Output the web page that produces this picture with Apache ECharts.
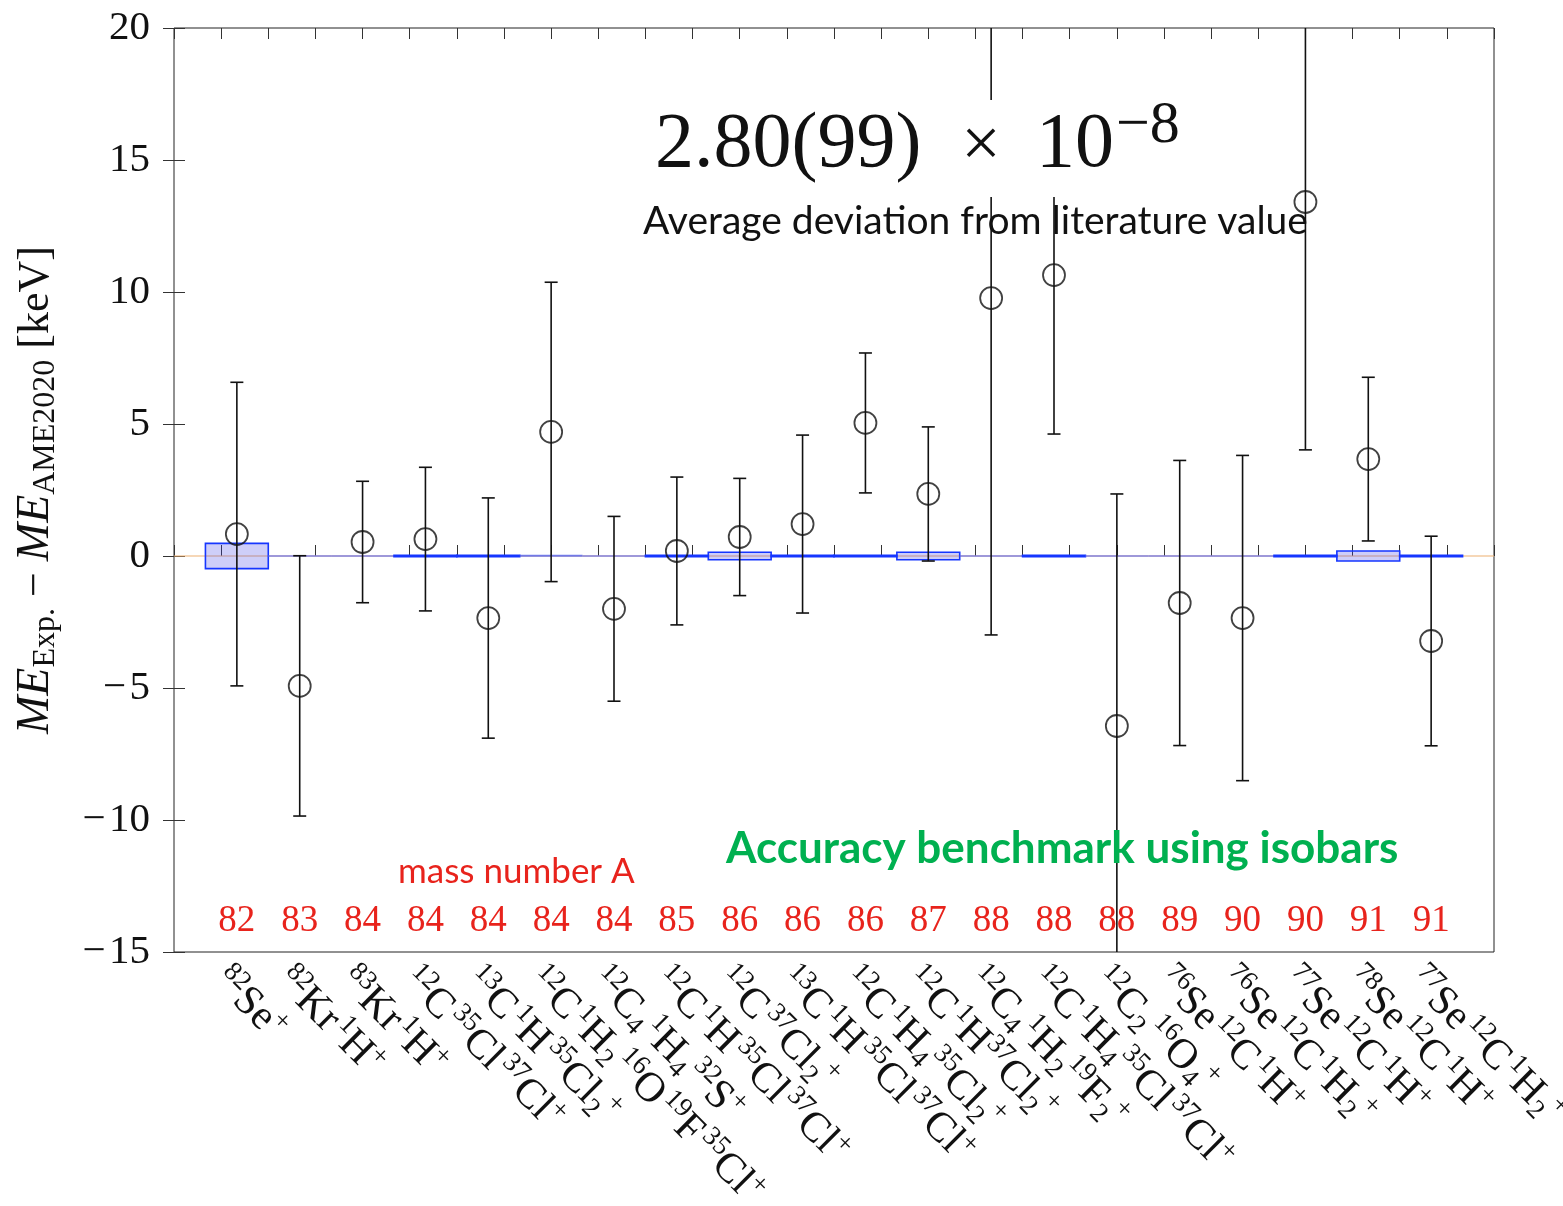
<!DOCTYPE html>
<html><head><meta charset="utf-8">
<script src="https://cdn.jsdelivr.net/npm/echarts/dist/echarts.min.js"></script>
<style>html,body{margin:0;padding:0;background:#fff}#c{width:1563px;height:1206px}</style>
</head><body><div id="c"></div>
<script>
// ---- data ----
const labels = [
  '^{82}Se^{+}',
  '^{82}Kr ^{1}H^{+}',
  '^{83}Kr ^{1}H^{+}',
  '^{12}C ^{35}Cl ^{37}Cl^{+}',
  '^{13}C ^{1}H ^{35}Cl_{2}^{+}',
  '^{12}C ^{1}H_{2} ^{16}O ^{19}F ^{35}Cl^{+}',
  '^{12}C_{4} ^{1}H_{4} ^{32}S^{+}',
  '^{12}C ^{1}H ^{35}Cl ^{37}Cl^{+}',
  '^{12}C ^{37}Cl_{2}^{+}',
  '^{13}C ^{1}H ^{35}Cl ^{37}Cl^{+}',
  '^{12}C ^{1}H_{4}^{35}Cl_{2}^{+}',
  '^{12}C ^{1}H^{37}Cl_{2}^{+}',
  '^{12}C_{4} ^{1}H_{2}^{19}F_{2}^{+}',
  '^{12}C ^{1}H_{4}^{35}Cl ^{37}Cl^{+}',
  '^{12}C_{2} ^{16}O_{4}^{+}',
  '^{76}Se ^{12}C ^{1}H^{+}',
  '^{76}Se ^{12}C ^{1}H_{2}^{+}',
  '^{77}Se ^{12}C ^{1}H^{+}',
  '^{78}Se ^{12}C ^{1}H^{+}',
  '^{77}Se ^{12}C ^{1}H_{2}^{+}'
];
const massNumbers = [82, 83, 84, 84, 84, 84, 84, 85, 86, 86, 86, 87, 88, 88, 88, 89, 90, 90, 91, 91];
const deviation   = [0.83, -4.92, 0.53, 0.64, -2.35, 4.70, -2.00, 0.19, 0.72, 1.21, 5.04, 2.35, 9.77, 10.64, -6.44, -1.78, -2.35, 13.41, 3.67, -3.22];
const uncertainty = [5.75, 4.93, 2.30, 2.72, 4.55, 5.67, 3.50, 2.80, 2.22, 3.37, 2.65, 2.54, 12.76, 6.02, 8.79, 5.40, 6.16, 9.39, 3.10, 3.97];
const ameUncertainty = [0.48, 0, 0, 0.03, 0.03, 0.01, 0, 0.03, 0.14, 0.03, 0.03, 0.14, 0, 0.03, 0, 0, 0, 0.03, 0.19, 0.03];
const yMin = -15, yMax = 20, yStep = 5;
const xMin = 0, xMax = 21;

// ---- helpers ----
function toRich(s) {
  const re = /\^\{([^}]*)\}|_\{([^}]*)\}|( )|([^\^_ ]+)/g;
  let out = '', m;
  while ((m = re.exec(s)) !== null) {
    if (m[1] !== undefined) out += '{sup|' + m[1] + '}';
    else if (m[2] !== undefined) out += '{sub|' + m[2] + '}';
    else if (m[3] !== undefined) out += '{g| }';
    else out += '{m|' + m[4] + '}';
  }
  return out;
}
const serif = 'Liberation Serif';

const chart = echarts.init(document.getElementById('c'), null, {renderer: 'canvas'});

chart.setOption({
  backgroundColor: '#fff',
  animation: false,
  grid: {left: 174, right: 69, top: 28, bottom: 254, show: true, borderColor: '#222', borderWidth: 1,
    backgroundColor: 'transparent', containLabel: false, outerBoundsMode: 'none'},
  xAxis: [
    { // main data axis with rotated labels
      type: 'value', min: xMin, max: xMax, interval: 1, position: 'bottom',
      axisLine: {show: false}, axisTick: {show: false}, splitLine: {show: false},
      axisLabel: {
        rotate: -45, margin: 6, verticalAlign: 'top', showMinLabel: true, showMaxLabel: true, hideOverlap: false,
        formatter: v => (v >= 1 && v <= labels.length) ? toRich(labels[v - 1]) : '',
        rich: {
          m: {fontFamily: serif, fontSize: 42, color: '#111', lineHeight: 48},
          sup: {fontFamily: serif, fontSize: 27, color: '#111', verticalAlign: 'top'},
          sub: {fontFamily: serif, fontSize: 27, color: '#111', verticalAlign: 'bottom'},
          g: {fontFamily: serif, fontSize: 13}
        }
      }
    },
    { // bottom ticks
      type: 'value', min: 0, max: 28, interval: 1, position: 'bottom',
      axisLine: {show: false}, axisLabel: {show: false}, splitLine: {show: false},
      axisTick: {show: true, inside: true, length: 11, lineStyle: {color: '#333', width: 1}}
    },
    { // top ticks
      type: 'value', min: 0, max: 28, interval: 1, position: 'top',
      axisLine: {show: false}, axisLabel: {show: false}, splitLine: {show: false},
      axisTick: {show: true, inside: true, length: 11, lineStyle: {color: '#333', width: 1}}
    },
    { // mass numbers row
      type: 'value', min: xMin, max: xMax, interval: 1, position: 'bottom',
      axisLine: {show: false}, axisTick: {show: false}, splitLine: {show: false},
      axisLabel: {
        inside: true, margin: 12, showMinLabel: true, showMaxLabel: true, hideOverlap: false,
        formatter: v => (v >= 1 && v <= massNumbers.length) ? String(massNumbers[v - 1]) : '',
        fontFamily: serif, fontSize: 37, color: '#e8231c'
      }
    }
  ],
  yAxis: [
    {
      type: 'value', min: yMin, max: yMax, interval: yStep, position: 'left',
      axisLine: {show: false}, splitLine: {show: false},
      axisTick: {show: true, inside: true, length: 11, lineStyle: {color: '#333', width: 1}},
      axisLabel: {margin: 24, fontFamily: serif, fontSize: 41, color: '#111',
        formatter: v => v < 0 ? '\u2212\u200a' + Math.abs(v) : String(v)},
      name: '{it|ME}{sb|Exp.}{n| \u2212 }{it|ME}{sb|AME2020}{n| [keV]}',
      nameLocation: 'middle', nameGap: 112,
      nameTextStyle: {
        rich: {
          it: {fontFamily: serif, fontStyle: 'italic', fontSize: 46, color: '#111', lineHeight: 52},
          sb: {fontFamily: serif, fontSize: 32, color: '#111', verticalAlign: 'bottom'},
          n: {fontFamily: serif, fontSize: 44, color: '#111'}
        }
      }
    },
    {
      type: 'value', min: yMin, max: yMax, interval: yStep, position: 'right',
      axisLine: {show: false}, splitLine: {show: false}, axisLabel: {show: false},
      axisTick: {show: true, inside: true, length: 11, lineStyle: {color: '#333', width: 1}}
    }
  ],
  series: [
    {
      type: 'line', xAxisIndex: 0, yAxisIndex: 0, silent: true, symbol: 'none', z: 1,
      data: [[xMin, 0], [xMax, 0]],
      lineStyle: {color: '#eeb070', width: 1.2}
    },
    {
      type: 'custom', xAxisIndex: 0, yAxisIndex: 0, clip: true, z: 2, silent: true,
      data: ameUncertainty.map((h, i) => [i + 1, h]),
      encode: {x: 0, y: 1},
      renderItem: function (params, api) {
        const x = api.value(0), h = api.value(1);
        const p1 = api.coord([x - 0.5, h]);
        const p2 = api.coord([x + 0.5, -h]);
        if (h > 0.02) {
          return {type: 'rect', shape: {x: p1[0], y: p1[1], width: p2[0] - p1[0], height: p2[1] - p1[1]},
            style: {fill: 'rgba(60,60,230,0.25)', stroke: '#1636ff', lineWidth: 1.6}};
        }
        return {type: 'line', shape: {x1: p1[0], y1: p1[1], x2: p2[0], y2: p1[1]},
          style: {stroke: h > 0 ? 'rgba(70,90,245,0.75)' : 'rgba(100,110,240,0.6)', lineWidth: 2}};
      }
    },
    {
      type: 'custom', xAxisIndex: 0, yAxisIndex: 0, clip: true, z: 3, silent: true,
      data: deviation.map((d, i) => [i + 1, d - uncertainty[i], d + uncertainty[i]]),
      encode: {x: 0, y: [1, 2]},
      renderItem: function (params, api) {
        const x = api.value(0);
        const lo = api.coord([x, api.value(1)]);
        const hi = api.coord([x, api.value(2)]);
        const c = 6.5;
        const st = {stroke: '#111', lineWidth: 1.6};
        return {type: 'group', children: [
          {type: 'line', shape: {x1: lo[0], y1: lo[1], x2: hi[0], y2: hi[1]}, style: st},
          {type: 'line', shape: {x1: lo[0] - c, y1: lo[1], x2: lo[0] + c, y2: lo[1]}, style: st},
          {type: 'line', shape: {x1: hi[0] - c, y1: hi[1], x2: hi[0] + c, y2: hi[1]}, style: st}
        ]};
      }
    },
    {
      type: 'scatter', xAxisIndex: 0, yAxisIndex: 0, z: 4, silent: true,
      symbol: 'circle', symbolSize: 22,
      data: deviation.map((d, i) => [i + 1, d]),
      itemStyle: {color: 'rgba(0,0,0,0)', borderColor: '#111', borderWidth: 1.8}
    }
  ],
  graphic: [
    {type: 'rect', z: 100, silent: true, shape: {x: 650, y: 100, width: 550, height: 97}, style: {fill: '#fff'}},
    {type: 'text', z: 101, silent: true, style: {x: 655, y: 146, text: '2.80(99)', font: '78px "Liberation Serif"', fill: '#111', verticalAlign: 'middle', align: 'left'}},
    {type: 'text', z: 101, silent: true, style: {x: 981, y: 148, text: '\u00d7', font: '70px "Liberation Serif"', fill: '#111', verticalAlign: 'middle', align: 'center'}},
    {type: 'text', z: 101, silent: true, style: {x: 1036, y: 146, text: '10', font: '78px "Liberation Serif"', fill: '#111', verticalAlign: 'middle', align: 'left'}},
    {type: 'text', z: 101, silent: true, style: {x: 1116, y: 126, text: '\u22128', font: '60px "Liberation Serif"', fill: '#111', verticalAlign: 'middle', align: 'left'}},
    {type: 'text', z: 101, silent: true, style: {x: 643, y: 221, text: 'Average deviation from literature value', font: '39px Lato', fill: '#111', verticalAlign: 'middle', align: 'left'}},
    {type: 'text', z: 101, silent: true, style: {x: 726, y: 849, text: 'Accuracy benchmark using isobars', font: 'bold 44px Lato', fill: '#00b050', verticalAlign: 'middle', align: 'left'}},
    {type: 'text', z: 101, silent: true, style: {x: 398, y: 872, text: 'mass number A', font: '35px Lato', fill: '#e8231c', verticalAlign: 'middle', align: 'left'}}
  ]
});
</script>
</body></html>
